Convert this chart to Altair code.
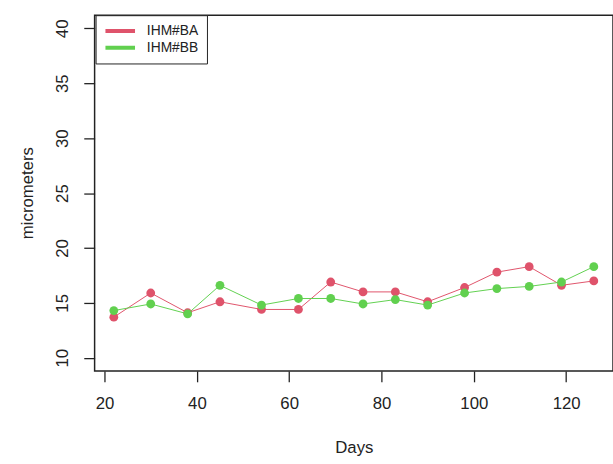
import altair as alt
import pandas as pd

# Sampling days and measured values (micrometers) for each series
days = [22, 30, 38, 45, 54, 62, 69, 76, 83, 90, 98, 105, 112, 119, 126]
ihm_ba = [13.7, 15.9, 14.1, 15.1, 14.4, 14.4, 16.9, 16.0, 16.0, 15.1, 16.4, 17.8, 18.3, 16.6, 17.0]
ihm_bb = [14.3, 14.9, 14.0, 16.6, 14.8, 15.4, 15.4, 14.9, 15.3, 14.8, 15.9, 16.3, 16.5, 16.9, 18.3]

series_names = ["IHM#BA", "IHM#BB"]
series_colors = ["#DF536B", "#61D04F"]
x_ticks = [20, 40, 60, 80, 100, 120]
y_ticks = [10, 15, 20, 25, 30, 35, 40]

rows = []
for order, (name, vals) in enumerate(zip(series_names, [ihm_ba, ihm_bb])):
    for d, v in zip(days, vals):
        rows.append({"Days": d, "value": v, "series": name, "order": order})
df = pd.DataFrame(rows)

FONT = "Liberation Sans"
INK = "#222222"

x_enc = alt.X(
    "Days:Q",
    scale=alt.Scale(domain=[17.84, 130.16], nice=False, zero=False),
    axis=alt.Axis(
        values=x_ticks, title="Days", grid=False, domain=False,
        tickSize=11, tickWidth=1.3, tickColor=INK,
        labelFontSize=17, labelColor=INK, labelPadding=14, labelFont=FONT,
        labelFlush=False,
        titleFontSize=17, titleFontWeight="normal", titleColor=INK, titleFont=FONT,
        titleY=83, titleBaseline="alphabetic",
    ),
)
y_enc = alt.Y(
    "value:Q",
    scale=alt.Scale(domain=[8.8, 41.2], nice=False, zero=False),
    axis=alt.Axis(
        values=y_ticks, title="micrometers", grid=False, domain=False,
        tickSize=11, tickWidth=1.3, tickColor=INK,
        labelFontSize=17, labelColor=INK, labelPadding=12, labelFont=FONT,
        labelAngle=270, labelAlign="center", labelBaseline="bottom",
        labelFlush=False,
        titleFontSize=17, titleFontWeight="normal", titleColor=INK, titleFont=FONT,
        titleAngle=270, titleX=-63, titleY=180, titleBaseline="alphabetic",
        titleAlign="center",
    ),
)

color_scale = alt.Scale(domain=series_names, range=series_colors)

base = alt.Chart(df)

lines = base.mark_line(strokeWidth=1).encode(
    x=x_enc,
    y=y_enc,
    color=alt.Color(
        "series:N",
        scale=color_scale,
        legend=alt.Legend(
            title=None, orient="none", legendX=1, legendY=0,
            fillColor="white", strokeColor=INK, padding=8,
            symbolType="stroke", symbolSize=900, symbolStrokeWidth=4,
            labelFontSize=14, labelFont=FONT, labelColor=INK,
            labelOffset=10, clipHeight=16, rowPadding=1,
        ),
    ),
    detail="series:N",
    order="Days:Q",
)

points = base.mark_circle(size=80, opacity=1).encode(
    x="Days:Q",
    y="value:Q",
    color=alt.Color("series:N", scale=color_scale, legend=None),
    order="order:Q",
)

chart = (
    alt.layer(lines, points)
    .properties(
        width=526,
        height=361,
        autosize=alt.AutoSizeParams(type="none"),
        padding={"left": 96, "top": 12, "right": 0, "bottom": 91},
        background="white",
    )
    .configure_view(stroke=INK, strokeWidth=1.5)
)

chart.save("out.html", embed_options={"renderer": "svg", "actions": False})
